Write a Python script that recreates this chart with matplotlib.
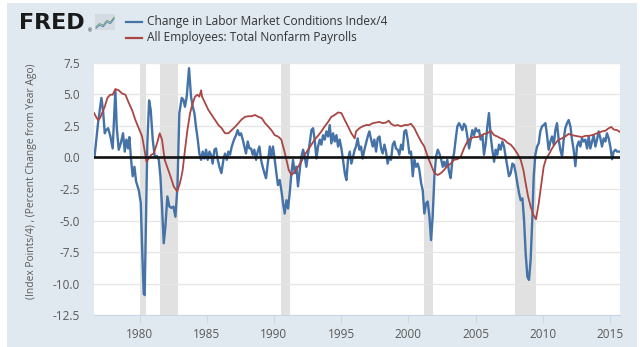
import matplotlib
matplotlib.use('Agg')
import matplotlib.pyplot as plt
from matplotlib.patches import Rectangle
from matplotlib.lines import Line2D

# Change in Labor Market Conditions Index / 4 (decimal year, index points/4)
lmci_year = [1976.65, 1976.91, 1977.01, 1977.16, 1977.28, 1977.41, 1977.51, 1977.66, 1977.83, 1978.0,
             1978.1, 1978.2, 1978.3, 1978.45, 1978.6, 1978.77, 1978.9, 1979.02, 1979.15, 1979.24,
             1979.37, 1979.49, 1979.62, 1979.74, 1979.94, 1980.09, 1980.19, 1980.31, 1980.38, 1980.48,
             1980.58, 1980.71, 1980.83, 1980.98, 1981.13, 1981.3, 1981.43, 1981.55, 1981.67, 1981.8,
             1981.92, 1982.07, 1982.22, 1982.37, 1982.52, 1982.67, 1982.82, 1982.96, 1983.14, 1983.26,
             1983.38, 1983.51, 1983.68, 1983.83, 1983.96, 1984.08, 1984.2, 1984.33, 1984.45, 1984.58,
             1984.7, 1984.82, 1984.95, 1985.07, 1985.2, 1985.32, 1985.44, 1985.57, 1985.69, 1985.82,
             1985.94, 1986.09, 1986.24, 1986.36, 1986.49, 1986.61, 1986.73, 1986.86, 1987.03, 1987.18,
             1987.3, 1987.43, 1987.55, 1987.68, 1987.8, 1987.92, 1988.05, 1988.17, 1988.3, 1988.42,
             1988.54, 1988.67, 1988.79, 1988.92, 1989.04, 1989.16, 1989.29, 1989.41, 1989.54, 1989.69,
             1989.81, 1989.93, 1990.06, 1990.18, 1990.3, 1990.43, 1990.55, 1990.68, 1990.8, 1990.93,
             1991.05, 1991.17, 1991.3, 1991.42, 1991.55, 1991.67, 1991.79, 1991.92, 1992.04, 1992.17,
             1992.29, 1992.41, 1992.54, 1992.66, 1992.79, 1992.91, 1993.03, 1993.16, 1993.28, 1993.41,
             1993.53, 1993.65, 1993.78, 1993.9, 1994.03, 1994.15, 1994.27, 1994.4, 1994.52, 1994.65,
             1994.77, 1994.89, 1995.02, 1995.14, 1995.27, 1995.39, 1995.51, 1995.64, 1995.76, 1995.89,
             1996.01, 1996.11, 1996.23, 1996.36, 1996.48, 1996.6, 1996.73, 1996.85, 1996.98, 1997.1,
             1997.23, 1997.35, 1997.47, 1997.6, 1997.72, 1997.85, 1997.97, 1998.09, 1998.22, 1998.34,
             1998.46, 1998.59, 1998.71, 1998.84, 1998.96, 1999.08, 1999.21, 1999.33, 1999.46, 1999.58,
             1999.7, 1999.83, 1999.95, 2000.08, 2000.2, 2000.33, 2000.45, 2000.57, 2000.7, 2000.82,
             2000.95, 2001.07, 2001.19, 2001.32, 2001.44, 2001.57, 2001.69, 2001.81, 2001.94, 2002.06,
             2002.19, 2002.31, 2002.43, 2002.56, 2002.66, 2002.78, 2002.9, 2003.03, 2003.15, 2003.28,
             2003.4, 2003.52, 2003.65, 2003.77, 2003.9, 2004.02, 2004.14, 2004.27, 2004.39, 2004.52,
             2004.64, 2004.76, 2004.89, 2005.01, 2005.14, 2005.26, 2005.38, 2005.51, 2005.63, 2005.76,
             2005.88, 2006.0, 2006.13, 2006.25, 2006.38, 2006.5, 2006.62, 2006.75, 2006.87, 2007.0,
             2007.12, 2007.24, 2007.37, 2007.49, 2007.62, 2007.74, 2007.86, 2007.99, 2008.11, 2008.24,
             2008.36, 2008.49, 2008.61, 2008.73, 2008.86, 2008.98, 2009.1, 2009.22, 2009.33, 2009.45,
             2009.58, 2009.7, 2009.82, 2009.95, 2010.07, 2010.2, 2010.32, 2010.44, 2010.57, 2010.69,
             2010.82, 2010.94, 2011.06, 2011.19, 2011.31, 2011.44, 2011.56, 2011.68, 2011.81, 2011.93,
             2012.06, 2012.18, 2012.3, 2012.43, 2012.55, 2012.68, 2012.8, 2012.92, 2013.05, 2013.17,
             2013.3, 2013.42, 2013.54, 2013.67, 2013.79, 2013.92, 2014.04, 2014.16, 2014.29, 2014.41,
             2014.54, 2014.66, 2014.78, 2014.91, 2015.03, 2015.16, 2015.28, 2015.41, 2015.53, 2015.75]
lmci_val = [0.05, 2.7, 3.5, 4.7, 3.75, 1.9, 2.15, 2.3, 1.65, 0.7,
            2.95, 5.3, 2.4, 0.6, 1.1, 1.9, 0.45, 1.4, 0.7, 1.6,
            -0.2, -1.5, -0.75, -1.9, -2.6, -3.6, -7.1, -10.8, -10.9, -4.7,
            1.1, 4.5, 3.75, 1.4, 0.05, 0.1, -0.2, -1.5, -3.9, -6.8,
            -5.5, -3.1, -3.9, -4.0, -3.9, -4.7, -2.3, 3.5, 4.7, 4.55,
            4.0, 4.8, 7.05, 4.8, 4.0, 3.5, 2.4, 1.4, 0.3, -0.2,
            0.45, -0.1, 0.6, -0.2, 0.45, 0.2, -0.5, 0.6, 0.7, -0.2,
            -0.75, -1.25, -0.2, 0.3, -0.2, 0.45, 0.2, 0.85, 1.4, 1.75,
            2.15, 1.75, 1.9, 1.4, 0.85, 0.3, 1.25, 0.7, 0.7, 0.2,
            0.6, -0.2, 0.45, 0.85, -0.2, -0.75, -1.25, -1.65, -0.5, 0.85,
            0.05, 0.85, -0.2, -1.25, -2.2, -1.8, -2.6, -3.65, -4.45, -3.4,
            -4.05, -2.85, -1.25, -0.2, -1.25, -0.75, -2.3, -1.0, 0.05, 0.6,
            0.05, -0.75, 0.3, 1.1, 2.15, 2.3, 1.4, -0.1, 0.85, 1.4,
            1.0, 1.75, 1.4, 2.05, 1.65, 2.55, 1.1, 1.9, 1.25, 1.75,
            0.85, 1.4, 0.7, -0.2, -1.25, -1.8, -0.2, 0.45, -0.5, 0.05,
            0.6, 0.85, 1.5, 0.6, 0.85, -0.1, 0.6, 1.1, 1.65, 2.05,
            1.4, 0.85, 1.4, 0.45, 1.5, 1.65, 0.7, 0.3, 1.0, 0.45,
            -0.5, 0.05, -0.2, 1.0, 1.25, 0.7, 0.6, 0.2, 1.0, 0.6,
            2.05, 2.15, 1.4, 0.3, 0.45, -1.5, -0.2, -0.75, -0.5, -1.0,
            -2.05, -2.6, -4.45, -3.65, -3.5, -4.7, -6.55, -4.7, -1.5, 0.05,
            0.6, 0.3, -0.1, -0.75, -0.35, -0.75, -0.2, -1.15, -1.65, -0.2,
            0.3, 1.4, 2.45, 2.7, 2.45, 2.15, 2.65, 2.45, 1.65, 0.7,
            1.4, 2.15, 1.75, 2.3, 2.05, 2.15, 1.4, 1.75, 0.2, 1.1,
            2.45, 3.5, 1.65, 0.6, -0.35, 0.6, 0.2, 1.0, 0.6, 1.25,
            0.85, 0.05, -0.75, -1.5, -1.25, -0.5, -0.6, -1.25, -2.05, -2.85,
            -3.4, -3.25, -4.95, -7.6, -9.45, -9.7, -8.1, -5.0, -1.5, 0.2,
            0.85, 1.1, 2.05, 2.45, 2.55, 2.7, 1.75, 0.6, 1.25, 1.65,
            1.0, 2.15, 2.7, 1.4, 0.6, 0.05, 1.4, 2.3, 2.7, 2.95,
            2.45, 1.4, 0.6, -0.7, 0.85, 1.25, 0.85, 1.5, 1.25, 1.4,
            0.7, 1.65, 0.7, 1.25, 1.75, 0.85, 1.4, 2.05, 1.5, 0.85,
            1.5, 1.25, 1.9, 1.5, 0.85, -0.15, 0.45, 0.6, 0.45, 0.45]

# All Employees: Total Nonfarm Payrolls (percent change from year ago)
payems_year = [1976.62, 1976.76, 1976.91, 1977.06, 1977.21, 1977.41, 1977.61, 1977.81, 1978.0, 1978.2,
               1978.45, 1978.7, 1978.95, 1979.2, 1979.44, 1979.69, 1979.94, 1980.19, 1980.39, 1980.51,
               1980.68, 1980.88, 1981.05, 1981.3, 1981.5, 1981.67, 1981.87, 1982.05, 1982.3, 1982.54,
               1982.79, 1982.96, 1983.08, 1983.21, 1983.38, 1983.56, 1983.76, 1983.96, 1984.13, 1984.3,
               1984.45, 1984.58, 1984.65, 1984.87, 1985.12, 1985.37, 1985.62, 1985.87, 1986.11, 1986.36,
               1986.61, 1986.86, 1987.1, 1987.35, 1987.6, 1987.85, 1988.1, 1988.35, 1988.59, 1988.84,
               1989.09, 1989.34, 1989.56, 1989.81, 1990.06, 1990.3, 1990.55, 1990.75, 1990.93, 1991.1,
               1991.3, 1991.55, 1991.79, 1992.04, 1992.29, 1992.54, 1992.79, 1993.03, 1993.28, 1993.53,
               1993.78, 1994.03, 1994.27, 1994.52, 1994.77, 1995.02, 1995.27, 1995.51, 1995.76, 1996.01,
               1996.11, 1996.36, 1996.6, 1996.85, 1997.1, 1997.35, 1997.6, 1997.85, 1998.09, 1998.34,
               1998.54, 1998.71, 1998.96, 1999.21, 1999.46, 1999.7, 1999.95, 2000.2, 2000.45, 2000.7,
               2000.95, 2001.19, 2001.44, 2001.69, 2001.94, 2002.19, 2002.43, 2002.66, 2002.9, 2003.15,
               2003.4, 2003.65, 2003.9, 2004.14, 2004.39, 2004.64, 2004.89, 2005.14, 2005.38, 2005.63,
               2005.88, 2006.13, 2006.38, 2006.62, 2006.87, 2007.12, 2007.37, 2007.62, 2007.86, 2008.11,
               2008.36, 2008.56, 2008.73, 2008.91, 2009.1, 2009.3, 2009.5, 2009.7, 2009.9, 2010.07,
               2010.25, 2010.44, 2010.69, 2010.94, 2011.19, 2011.44, 2011.68, 2011.93, 2012.18, 2012.43,
               2012.68, 2012.92, 2013.17, 2013.42, 2013.67, 2013.92, 2014.16, 2014.41, 2014.66, 2014.91,
               2015.1, 2015.28, 2015.53, 2015.75]
payems_val = [3.5, 3.2, 2.95, 3.1, 3.5, 4.0, 4.7, 4.95, 4.95, 5.4,
              5.3, 5.05, 4.95, 4.3, 3.75, 2.95, 2.3, 1.65, 0.45, -0.35,
              -0.1, 0.2, 0.3, 1.1, 1.9, 1.4, -0.2, -0.75, -1.5, -2.3,
              -2.7, -2.2, -1.7, -1.0, 0.6, 2.15, 3.5, 4.3, 4.8, 4.95,
              4.8, 5.3, 4.8, 4.3, 3.75, 3.35, 2.95, 2.55, 2.3, 1.9,
              1.9, 2.15, 2.4, 2.7, 3.0, 3.2, 3.25, 3.25, 3.35, 3.2,
              3.1, 2.7, 2.45, 2.15, 1.75, 1.65, 1.4, 0.6, -0.2, -1.0,
              -1.4, -1.15, -0.75, -0.35, 0.2, 0.6, 1.0, 1.4, 1.7, 2.05,
              2.45, 2.8, 3.2, 3.35, 3.55, 3.5, 2.95, 2.45, 1.9, 1.5,
              2.05, 2.3, 2.45, 2.55, 2.55, 2.7, 2.75, 2.8, 2.7, 2.75,
              2.9, 2.65, 2.5, 2.55, 2.45, 2.55, 2.55, 2.65, 2.3, 1.75,
              1.25, 0.85, 0.05, -0.6, -1.25, -1.4, -1.25, -1.0, -0.7, -0.5,
              -0.2, -0.15, 0.05, 0.7, 1.25, 1.5, 1.6, 1.6, 1.7, 1.85,
              1.9, 2.1, 1.75, 1.65, 1.5, 1.4, 1.15, 1.0, 0.7, 0.3,
              -0.2, -1.0, -2.05, -3.1, -3.9, -4.55, -4.9, -3.65, -2.05, -0.75,
              -0.1, 0.2, 0.7, 1.1, 1.4, 1.5, 1.65, 1.85, 1.75, 1.7,
              1.65, 1.6, 1.7, 1.7, 1.75, 1.85, 1.95, 2.05, 2.1, 2.3,
              2.4, 2.2, 2.15, 2.0]

# NBER recessions
rec_start = [1980.0, 1981.5, 1990.5, 2001.17, 2007.92]
rec_end = [1980.5, 1982.83, 1991.17, 2001.83, 2009.5]

year_ticks = [1980, 1985, 1990, 1995, 2000, 2005, 2010, 2015]
value_ticks = [-12.5, -10.0, -7.5, -5.0, -2.5, 0.0, 2.5, 5.0, 7.5]

# little FRED logo sparkline
icon_a = [0.2, 0.4, 0.3, 0.6, 0.5, 0.8]
icon_b = [0.1, 0.3, 0.2, 0.5, 0.4, 0.7]

BG = '#e1e9f0'
BLUE = '#4572a7'
RED = '#aa4643'
W, H = 640, 347


def draw(output_path):
    plt.rcParams['font.family'] = ['Open Sans', 'DejaVu Sans']
    fig = plt.figure(figsize=(W / 100, H / 100), dpi=100)
    fig.patch.set_facecolor('white')
    fig.patches.append(Rectangle((7 / W, 0), 630 / W, 344 / H, transform=fig.transFigure,
                                 facecolor=BG, edgecolor='none', zorder=-10))

    # header: logo + legend
    fig.text(19 / W, 1 - 23 / H, 'FRED', fontsize=16, fontweight='heavy', color='#1a1a1a',
             family='DejaVu Sans', va='center', ha='left')
    fig.text(88 / W, 1 - 31 / H, '\u00ae', fontsize=3.5, color='#1a1a1a', va='center')
    icon = fig.add_axes([95 / W, 1 - 30 / H, 20 / W, 16 / H])
    icon.set_facecolor('#d4dbe3')
    icon.plot(range(len(icon_a)), icon_a, color='#6fa36f', lw=0.7)
    icon.plot(range(len(icon_b)), icon_b, color='#5b86b8', lw=0.7)
    icon.set_ylim(0, 1)
    icon.set_xticks([])
    icon.set_yticks([])
    for sp in icon.spines.values():
        sp.set_visible(False)

    for yy, col, label in [(22, BLUE, 'Change in Labor Market Conditions Index/4'),
                           (37.5, RED, 'All Employees: Total Nonfarm Payrolls')]:
        fig.lines.append(Line2D([126 / W, 142 / W], [1 - yy / H, 1 - yy / H], transform=fig.transFigure,
                                color=col, lw=1.6))
        fig.text(147 / W, 1 - yy / H, label, fontsize=8.6, color='#333333', va='center', ha='left')

    ax = fig.add_axes([94 / W, (H - 315.3) / H, 526 / W, 252.8 / H])
    ax.set_facecolor('white')
    for s, e in zip(rec_start, rec_end):
        ax.axvspan(s, e, color='#e1e1e1', lw=0, zorder=0)
    ax.plot(lmci_year, lmci_val, color=BLUE, lw=1.7, zorder=3)
    ax.plot(payems_year, payems_val, color=RED, lw=1.3, zorder=3)
    ax.axhline(0, color='#111111', lw=1.9, zorder=4)

    ax.set_xlim(1976.61, 2015.75)
    ax.set_ylim(-12.5, 7.5)
    ax.set_xticks(year_ticks)
    ax.set_xticklabels([str(y) for y in year_ticks])
    ax.set_yticks(value_ticks)
    ax.set_yticklabels([f'{v:.1f}' for v in value_ticks])
    ax.yaxis.grid(True, color='#e6e6e6', lw=1)
    ax.set_axisbelow(True)
    for sp in ['left', 'top', 'right']:
        ax.spines[sp].set_visible(False)
    ax.spines['bottom'].set_color('#ccd6eb')
    ax.tick_params(axis='y', length=0, pad=10, labelsize=8.5, labelcolor='#595959')
    ax.tick_params(axis='x', length=6, color='#ccd6eb', pad=3, labelsize=8.5, labelcolor='#595959')

    fig.text(32 / W, 1 - 181 / H, '(Index Points/4) , (Percent Change from Year Ago)', rotation=90,
             fontsize=7.4, color='#595959', va='center', ha='center')

    plt.savefig(output_path, dpi=100, facecolor=fig.get_facecolor())
    plt.close()


if __name__ == "__main__":
    draw('out.png')
